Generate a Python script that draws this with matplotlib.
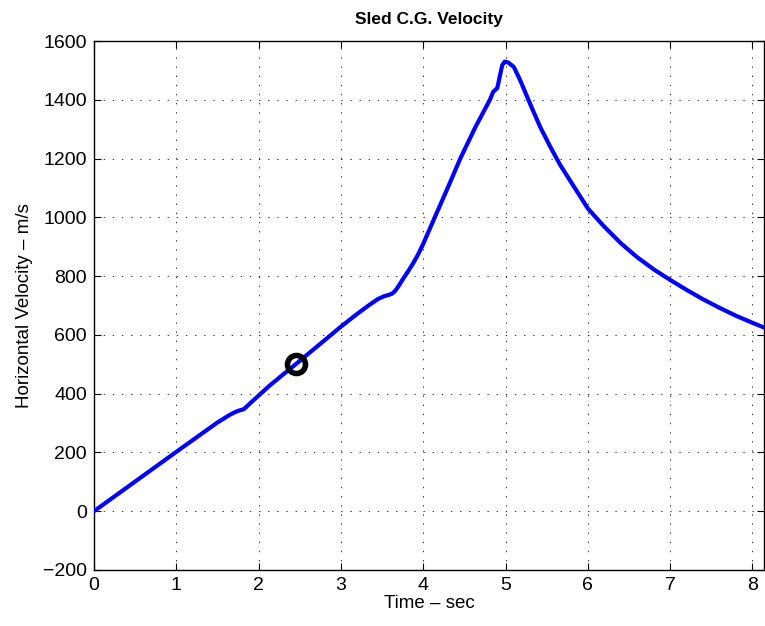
import matplotlib
matplotlib.use("Agg")
import matplotlib.pyplot as plt

# Data
time_s = [0, 0.5, 1.0, 1.5, 1.65, 1.72, 1.78, 1.82, 1.9, 2.14, 2.45, 3.0, 3.2, 3.35,
          3.45, 3.52, 3.58, 3.62, 3.66, 3.7, 3.76, 3.82, 3.88, 3.94, 4.0, 4.07, 4.14,
          4.3, 4.45, 4.63, 4.81, 4.85, 4.90, 4.93, 4.96, 4.99, 5.03, 5.1, 5.18, 5.3,
          5.42, 5.54, 5.66, 5.8, 6.0, 6.2, 6.4, 6.6, 6.8, 7.0, 7.2, 7.4, 7.6, 7.8,
          8.0, 8.15]
velocity = [0, 101, 202, 302, 328, 338, 344, 347, 368, 429, 500, 628, 672, 703,
            722, 731, 736, 740, 750, 766, 793, 818, 845, 875, 910, 955, 1000,
            1102, 1200, 1305, 1400, 1427, 1440, 1480, 1518, 1530, 1527, 1512, 1465, 1385,
            1308, 1242, 1180, 1118, 1030, 968, 912, 864, 823, 787, 753, 721, 692, 665,
            641, 624]
marker_t = [2.45]
marker_v = [500]

x_ticks = [0, 1, 2, 3, 4, 5, 6, 7, 8]
y_ticks = [-200, 0, 200, 400, 600, 800, 1000, 1200, 1400, 1600]

plt.rcParams['font.family'] = ['Liberation Sans', 'DejaVu Sans']

fig = plt.figure(figsize=(7.65, 6.26), dpi=100)
ax = fig.add_axes([0.1229, 0.0895, 0.8758, 0.845])

ax.plot(time_s, velocity, color='#0000ff', lw=3.0, solid_capstyle='round',
        solid_joinstyle='round', zorder=3)
ax.plot(marker_t, marker_v, 'o', ms=13, mfc='none', mec='black', mew=4, zorder=4)

ax.set_xlim(0, 8.14)
ax.set_ylim(-200, 1600)
ax.set_xticks(x_ticks)
ax.set_yticks(y_ticks)
ax.tick_params(direction='in', length=5, width=0.8, top=True, right=True,
               labelsize=14, pad=5, colors='black')
ax.grid(True, color='#303030', lw=0.7, linestyle=(0, (1.4, 8)))
for s in ax.spines.values():
    s.set_linewidth(1.0)

ax.set_xlabel('Time – sec', fontsize=13.5, labelpad=1)
ax.set_ylabel('Horizontal Velocity – m/s', fontsize=13.5, labelpad=7)
ax.set_title('Sled C.G. Velocity', fontsize=12.5, fontweight='bold', pad=12)

fig.savefig('out.png', dpi=100)
